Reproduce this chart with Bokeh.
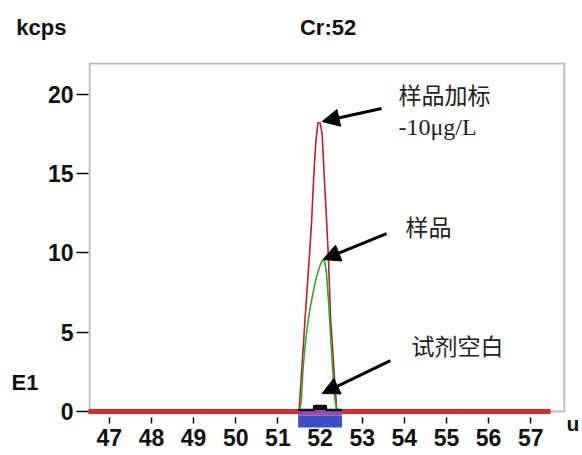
from bokeh.plotting import figure
from bokeh.layouts import column
from bokeh.models import (Range1d, FixedTicker, BoxAnnotation, Label, Arrow,
                          NormalHead, LinearAxis)
from bokeh.embed import file_html
from bokeh.resources import INLINE

# ---- data ----
mass = [51.50, 51.55, 51.60, 51.65, 51.70, 51.75, 51.80, 51.85, 51.90, 51.95,
        52.00, 52.05, 52.10, 52.15, 52.20, 52.25, 52.30, 52.35, 52.40]
spiked = [0.0, 2.0, 4.0, 6.1, 8.0, 9.9, 12.0, 14.8, 17.0, 18.2,
          18.2, 17.5, 14.8, 12.3, 9.6, 5.9, 3.9, 1.8, 0.0]
sample = [0.0, 0.5, 2.8, 4.3, 5.4, 6.3, 7.0, 7.7, 8.3, 8.8,
          9.2, 9.5, 9.6, 8.8, 7.0, 4.8, 2.6, 0.8, 0.0]
blank_mass = [51.48, 51.86, 51.86, 52.14, 52.14, 52.52]
blank = [0.1, 0.1, 0.35, 0.35, 0.1, 0.1]
x_ticks = [47, 48, 49, 50, 51, 52, 53, 54, 55, 56, 57]
y_ticks = [0, 5, 10, 15, 20]
window_start = [51.48]
window_end = [52.52]
baseline_start = [46.50]
baseline_end = [57.47]

FONT = "Liberation Sans"
x_range = Range1d(46.505, 57.825)


def text_axis(tick, label, size, standoff):
    return LinearAxis(ticker=FixedTicker(ticks=[tick]),
                      major_label_overrides={tick: label},
                      axis_line_color=None, major_tick_line_color=None,
                      minor_tick_line_color=None, major_tick_in=0, major_tick_out=0,
                      major_label_standoff=standoff,
                      major_label_text_font=FONT,
                      major_label_text_font_style="bold",
                      major_label_text_font_size=size,
                      major_label_text_color="#111111")


# ---- header strip (unit at left, element title centred) ----
head = figure(width=582, height=62, output_backend="svg", toolbar_location=None,
              x_range=x_range, y_range=Range1d(62, 0),
              x_axis_location=None, y_axis_location=None,
              min_border_left=88, min_border_right=14, min_border_top=0,
              min_border_bottom=0, outline_line_color=None,
              background_fill_color="white", border_fill_color="white")
head.grid.visible = False
head.add_layout(text_axis(27, "kcps", "22px", 22), "left")
head.add_layout(Label(x=52.19, y=27, text="Cr:52", text_font=FONT,
                      text_font_style="bold", text_font_size="22px",
                      text_align="center", text_baseline="middle",
                      text_color="#111111"))

# ---- main spectrum plot ----
p = figure(width=582, height=393, output_backend="svg", toolbar_location=None,
           x_range=x_range, y_range=Range1d(-0.755, 22.0),
           min_border_left=88, min_border_right=14, min_border_top=0,
           min_border_bottom=32, outline_line_color=None,
           background_fill_color="white", border_fill_color="white")
p.grid.visible = False

for ax in (p.xaxis[0], p.yaxis[0]):
    ax.axis_line_color = None
    ax.minor_tick_line_color = None
    ax.major_tick_line_color = "black"
    ax.major_tick_line_width = 1.5
    ax.major_label_text_font = FONT
    ax.major_label_text_font_style = "bold"
    ax.major_label_text_font_size = "23px"
    ax.major_label_text_color = "#111111"
p.xaxis.ticker = FixedTicker(ticks=x_ticks)
p.xaxis.major_tick_in = 6
p.xaxis.major_tick_out = 0
p.xaxis.major_label_standoff = 5
p.yaxis.ticker = FixedTicker(ticks=y_ticks)
p.yaxis.major_tick_in = 0
p.yaxis.major_tick_out = 12
p.yaxis.major_label_standoff = 3

p.add_layout(text_axis(1.8, "E1", "22px", 6), "left")
p.add_layout(text_axis(-0.75, "u", "21px", 1), "right")

# frame
p.add_layout(BoxAnnotation(left=46.53, right=57.80, bottom=0, top=21.94,
                           fill_alpha=0, line_color="#1a1a1a", line_width=2))

# traces
p.line(mass, spiked, line_color="#b5202c", line_width=1.6)
p.line(mass, sample, line_color="#2ea82e", line_width=1.6)

# baseline bar and integration window
r = p.segment(x0=baseline_start, y0=[0], x1=baseline_end, y1=[0],
              line_color="#e2252b", line_width=5)
r.level = "overlay"
q1 = p.quad(left=window_start, right=window_end, bottom=[-0.25], top=[0.13],
            fill_color="#9a46b8", line_color=None)
q1.level = "overlay"
q2 = p.quad(left=window_start, right=window_end, bottom=[-1.0], top=[-0.25],
            fill_color="#3a4fc4", line_color=None)
q2.level = "overlay"
a = p.varea(x=blank_mass, y1=[0.1] * len(blank), y2=blank, fill_color="#111111")
a.level = "overlay"
b = p.line(blank_mass, blank, line_color="#111111", line_width=2.5)
b.level = "overlay"

# arrows
for xs, ys, xe, ye in [(53.46, 19.10, 52.05, 18.28),
                       (53.58, 11.22, 52.07, 9.58),
                       (53.67, 3.21, 52.05, 1.13)]:
    p.add_layout(Arrow(end=NormalHead(size=17, fill_color="black", line_color="black"),
                       x_start=xs, y_start=ys, x_end=xe, y_end=ye,
                       line_color="black", line_width=3))

cjk = "Noto Sans CJK SC"
p.add_layout(Label(x=53.86, y=20.04, text="样品加标", text_font=cjk,
                   text_font_size="23px", text_baseline="middle", text_color="#222222"))
p.add_layout(Label(x=53.86, y=17.93, text="-10μg/L", text_font="Liberation Serif",
                   text_font_size="24px", text_baseline="middle", text_color="#222222"))
p.add_layout(Label(x=54.03, y=11.67, text="样品", text_font=cjk,
                   text_font_size="23px", text_baseline="middle", text_color="#222222"))
p.add_layout(Label(x=54.17, y=4.17, text="试剂空白", text_font=cjk,
                   text_font_size="23px", text_baseline="middle", text_color="#222222"))

page = column(head, p, spacing=0)
open("out.html", "w").write(file_html(page, INLINE))
